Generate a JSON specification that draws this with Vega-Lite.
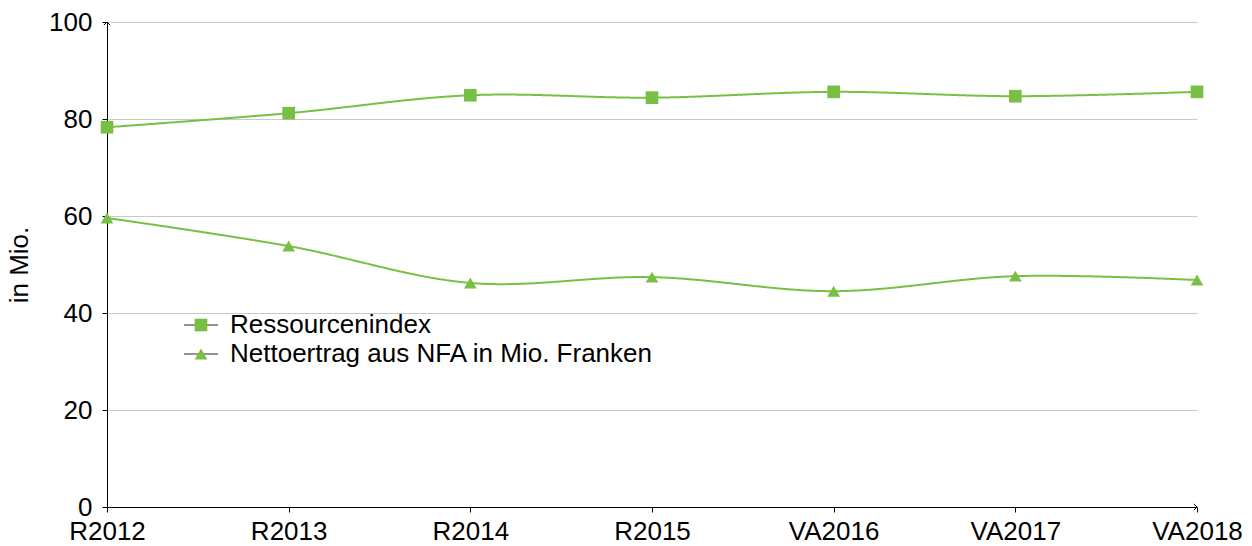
{
  "$schema": "https://vega.github.io/schema/vega-lite/v6.json",
  "width": 1090,
  "height": 485,
  "autosize": {"type": "none"},
  "padding": {"left": 107, "top": 22, "right": 55, "bottom": 39},
  "config": {
    "font": "Liberation Sans",
    "view": {"stroke": null},
    "axis": {"labelFont": "Liberation Sans", "labelFontSize": 26, "labelColor": "#000", "titleFont": "Liberation Sans", "titleFontSize": 26, "titleFontWeight": "normal", "titleColor": "#000", "domainColor": "#000", "tickColor": "#000"}
  },
  "data": {
    "values": [
      {"year": "R2012", "series": "Ressourcenindex", "value": 78.3},
      {"year": "R2013", "series": "Ressourcenindex", "value": 81.2},
      {"year": "R2014", "series": "Ressourcenindex", "value": 84.9},
      {"year": "R2015", "series": "Ressourcenindex", "value": 84.4},
      {"year": "VA2016", "series": "Ressourcenindex", "value": 85.6},
      {"year": "VA2017", "series": "Ressourcenindex", "value": 84.7},
      {"year": "VA2018", "series": "Ressourcenindex", "value": 85.6},
      {"year": "R2012", "series": "Nettoertrag aus NFA in Mio. Franken", "value": 59.6},
      {"year": "R2013", "series": "Nettoertrag aus NFA in Mio. Franken", "value": 53.8},
      {"year": "R2014", "series": "Nettoertrag aus NFA in Mio. Franken", "value": 46.2},
      {"year": "R2015", "series": "Nettoertrag aus NFA in Mio. Franken", "value": 47.4},
      {"year": "VA2016", "series": "Nettoertrag aus NFA in Mio. Franken", "value": 44.5},
      {"year": "VA2017", "series": "Nettoertrag aus NFA in Mio. Franken", "value": 47.6},
      {"year": "VA2018", "series": "Nettoertrag aus NFA in Mio. Franken", "value": 46.8}
    ]
  },
  "encoding": {
    "x": {
      "field": "year", "type": "ordinal", "sort": null,
      "scale": {"type": "point", "padding": 0},
      "axis": {"title": null, "labelAngle": 0, "grid": false, "tickSize": 5, "labelPadding": 6, "domainWidth": 1}
    },
    "y": {
      "field": "value", "type": "quantitative",
      "scale": {"domain": [0, 100], "nice": false},
      "axis": {"title": "in Mio.", "values": [0, 20, 40, 60, 80, 100], "grid": true, "gridColor": "#c8c8c8", "gridWidth": 1, "tickSize": 5, "labelPadding": 10, "titlePadding": 16, "domainWidth": 1}
    }
  },
  "layer": [
    {
      "mark": {"type": "line", "interpolate": "catmull-rom", "strokeWidth": 2, "color": "#77c043"},
      "encoding": {
        "strokeDash": {
          "field": "series", "type": "nominal",
          "scale": {"domain": ["Nettoertrag aus NFA in Mio. Franken", "Ressourcenindex"], "range": [[1, 0], [1, 0]]},
          "legend": {"title": null, "orient": "none", "legendX": 81, "legendY": 290, "symbolType": "M-2.7,0H2.7", "symbolSize": 160, "symbolStrokeColor": "#222", "symbolStrokeWidth": 1, "labelFontSize": 26, "labelFont": "Liberation Sans", "labelExpr": "' '", "labelOpacity": 0, "rowPadding": 3, "labelOffset": 15, "labelLimit": 600}
        }
      }
    },
    {
      "mark": {"type": "point", "filled": true, "size": 160, "opacity": 1, "color": "#77c043"},
      "encoding": {
        "shape": {
          "field": "series", "type": "nominal",
          "scale": {"domain": ["Ressourcenindex", "Nettoertrag aus NFA in Mio. Franken"], "range": ["square", "triangle-up"]},
          "legend": {"title": null, "orient": "none", "legendX": 81, "legendY": 290, "labelFontSize": 26, "labelFont": "Liberation Sans", "labelColor": "#000", "symbolSize": 160, "symbolFillColor": "#77c043", "symbolStrokeColor": "#77c043", "symbolStrokeWidth": 0, "rowPadding": 3, "labelOffset": 16, "labelLimit": 600}
        }
      }
    },
    {
      "data": {"values": [{"year": "R2012", "value": 100}]},
      "mark": {"type": "point", "shape": "M-1,1L0,0L1,1", "filled": false, "size": 40, "stroke": "#000", "strokeWidth": 1, "opacity": 1},
      "encoding": {}
    },
    {
      "data": {"values": [{"year": "VA2018", "value": 0}]},
      "mark": {"type": "point", "shape": "M-1,-1L0,0L-1,1", "filled": false, "size": 40, "stroke": "#000", "strokeWidth": 1, "opacity": 1},
      "encoding": {}
    }
  ]
}
